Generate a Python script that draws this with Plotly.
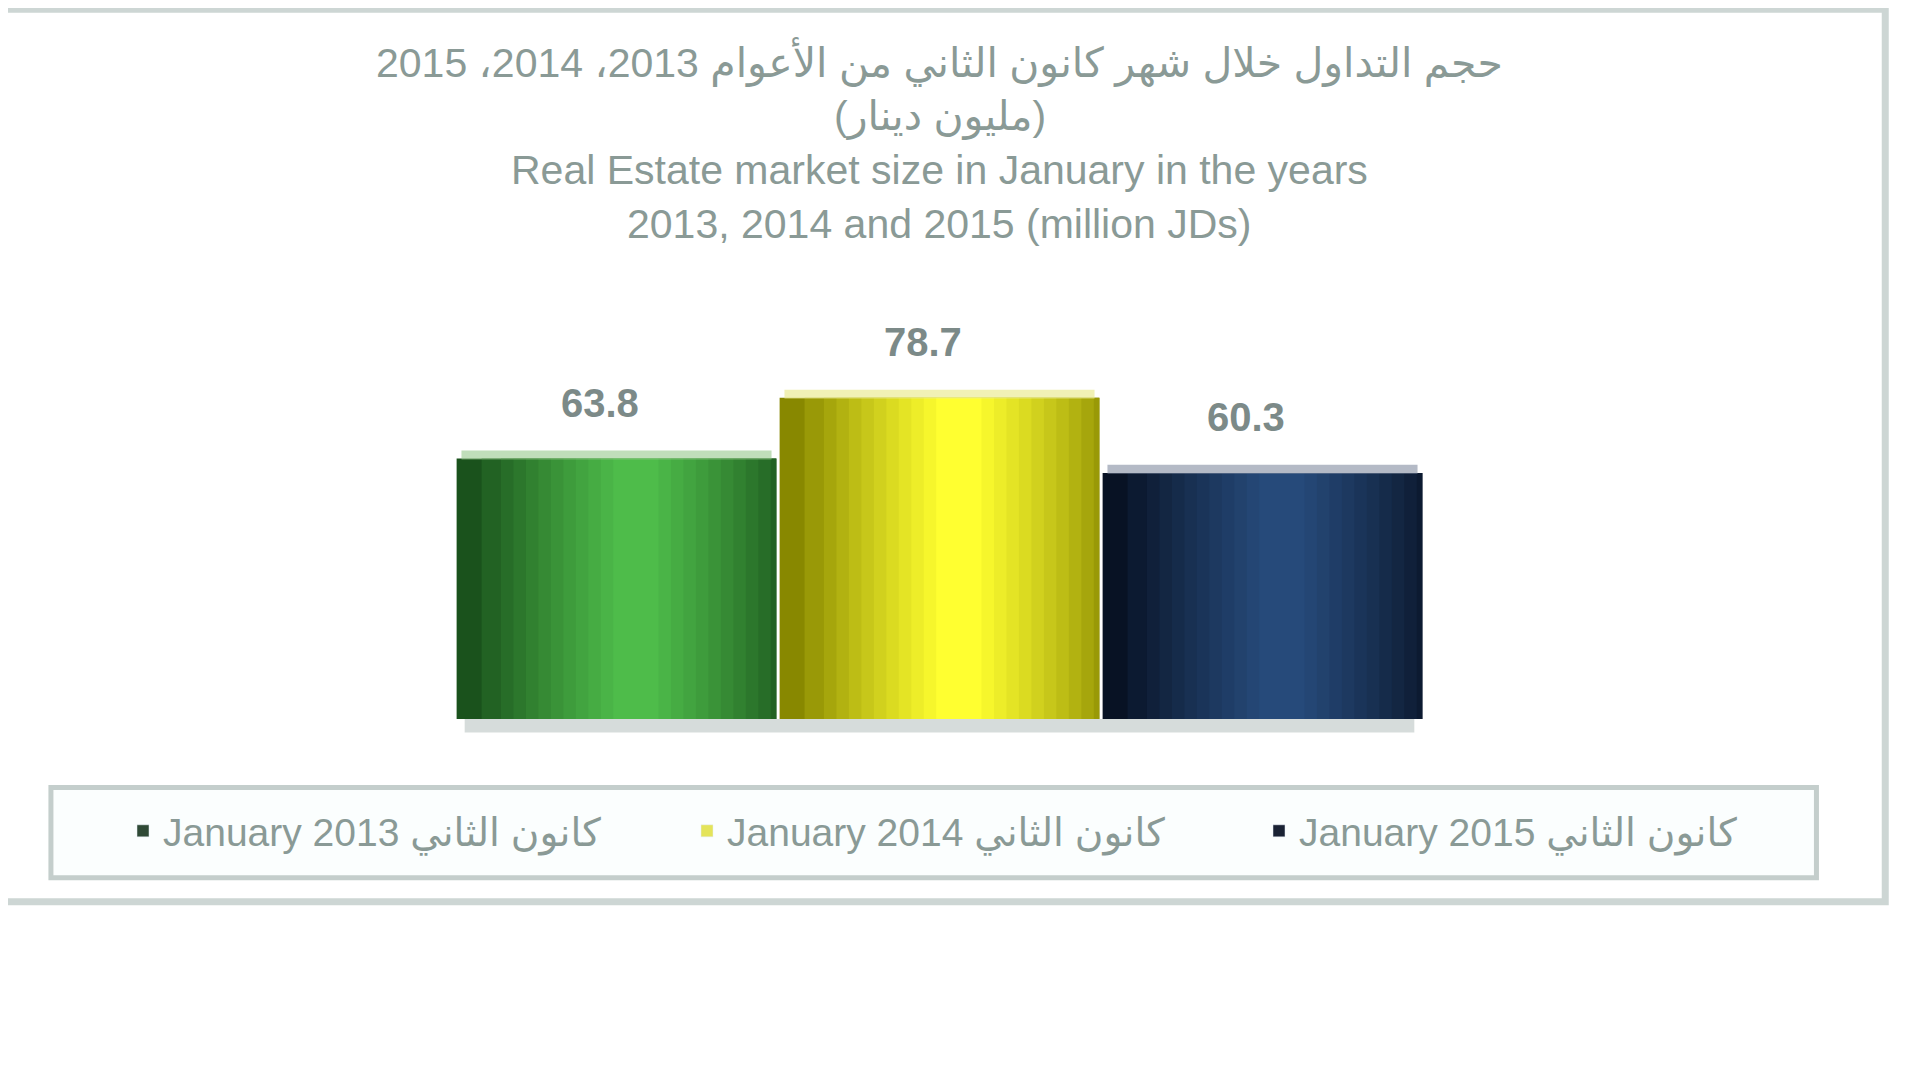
import plotly.graph_objects as go

# data
years = ["2013", "2014", "2015"]
values = [63.8, 78.7, 60.3]
labels = ["63.8", "78.7", "60.3"]
legend_names = ["January 2013 كانون الثاني", "January 2014 كانون الثاني", "January 2015 كانون الثاني"]
title_lines = [
    "حجم التداول خلال شهر كانون الثاني من الأعوام 2013، 2014، 2015",
    "(مليون دينار)",
    "Real Estate market size in January in the years",
    "2013, 2014 and 2015 (million JDs)",
]

# edge colour -> highlight colour for the cylinder shading
edge_cols = [(0x1a, 0x52, 0x1c), (0x88, 0x88, 0x00), (0x08, 0x12, 0x24)]
light_cols = [(0x4e, 0xbc, 0x4a), (0xff, 0xff, 0x30), (0x26, 0x4a, 0x7a)]
top_cols = ["rgba(150,200,140,0.6)", "rgba(235,235,150,0.7)", "rgba(130,140,160,0.6)"]
legend_cols = ["#2f4a36", "#e4e45a", "#1a2234"]
n_layers = 12
shift = 0.06

grey = "#8a9a96"
FONT = "Liberation Sans, DejaVu Sans, sans-serif"
legend_ids = ["legend", "legend2", "legend3"]
legend_px = [139, 703, 1275]


def mix(a, b, t):
    return "rgb(%d,%d,%d)" % tuple(round(a[j] + (b[j] - a[j]) * t) for j in range(3))


fig = go.Figure()

for i in range(len(years)):
    for k in range(n_layers):
        t = k / (n_layers - 1)
        w = 0.99 - t * 0.85
        off = max(-0.495, shift - w / 2)
        if off + w > 0.495:
            off = 0.495 - w
        fig.add_trace(go.Bar(
            x=[i], y=[values[i]],
            width=[w], offset=[off],
            marker=dict(color=mix(edge_cols[i], light_cols[i], t ** 0.8), line=dict(width=0)),
            name=legend_names[i],
            showlegend=False,
            hoverinfo="skip",
        ))
    # light rim along the top of each bar
    fig.add_trace(go.Bar(
        x=[i], y=[2.2], base=[values[i] - 0.2],
        width=[0.96], offset=[-0.48],
        marker=dict(color=top_cols[i], line=dict(width=0)),
        showlegend=False, hoverinfo="skip",
    ))
    # legend entry only
    fig.add_trace(go.Bar(
        x=[None], y=[None], name=legend_names[i],
        marker=dict(color=legend_cols[i]),
        legend=legend_ids[i], showlegend=True,
    ))

# value labels
for i, v in enumerate(values):
    fig.add_annotation(
        x=i - 0.05, y=v, text="<b>%s</b>" % labels[i],
        showarrow=False, yanchor="bottom", yshift=32,
        font=dict(family=FONT, size=40, color="#7c8a88"),
    )

# title lines
title_y = [1.455, 1.337, 1.218, 1.098]
for t, yy in zip(title_lines, title_y):
    fig.add_annotation(
        x=0.5, y=yy, xref="paper", yref="paper", text=t,
        showarrow=False, yanchor="middle",
        font=dict(family=FONT, size=41, color=grey),
    )

# frame, legend box and bar base shadow
fig.add_shape(type="rect", xref="paper", yref="paper",
              x0=-0.47, x1=1.476, y0=-0.405, y1=1.574,
              line=dict(color="#cdd6d4", width=7), fillcolor="rgba(0,0,0,0)", layer="below")
fig.add_shape(type="rect", xref="paper", yref="paper",
              x0=-0.417, x1=1.405, y0=-0.352, y1=-0.152,
              line=dict(color="#c4cecc", width=5), fillcolor="#fbfefe", layer="below")
fig.add_shape(type="rect", xref="x", yref="paper",
              x0=-0.47, x1=2.47, y0=-0.03, y1=0,
              line=dict(width=0), fillcolor="rgba(120,140,135,0.3)", layer="below")

legend_style = dict(
    xref="container", yref="container", xanchor="left", yanchor="middle",
    bgcolor="rgba(0,0,0,0)", borderwidth=0,
    font=dict(family=FONT, size=39, color=grey),
)

fig.update_layout(
    width=1920, height=1080,
    paper_bgcolor="white", plot_bgcolor="white",
    barmode="overlay",
    margin=dict(l=447, r=504, t=260, b=369, autoexpand=False),
    xaxis=dict(range=[-0.5, 2.5], visible=False, fixedrange=True),
    yaxis=dict(range=[0, 110.5], visible=False, fixedrange=True),
    showlegend=True,
    legend=dict(x=(legend_px[0] - 24) / 1920, y=0.238, **legend_style),
    legend2=dict(x=(legend_px[1] - 24) / 1920, y=0.238, **legend_style),
    legend3=dict(x=(legend_px[2] - 24) / 1920, y=0.238, **legend_style),
)

fig.write_html("out.html")
